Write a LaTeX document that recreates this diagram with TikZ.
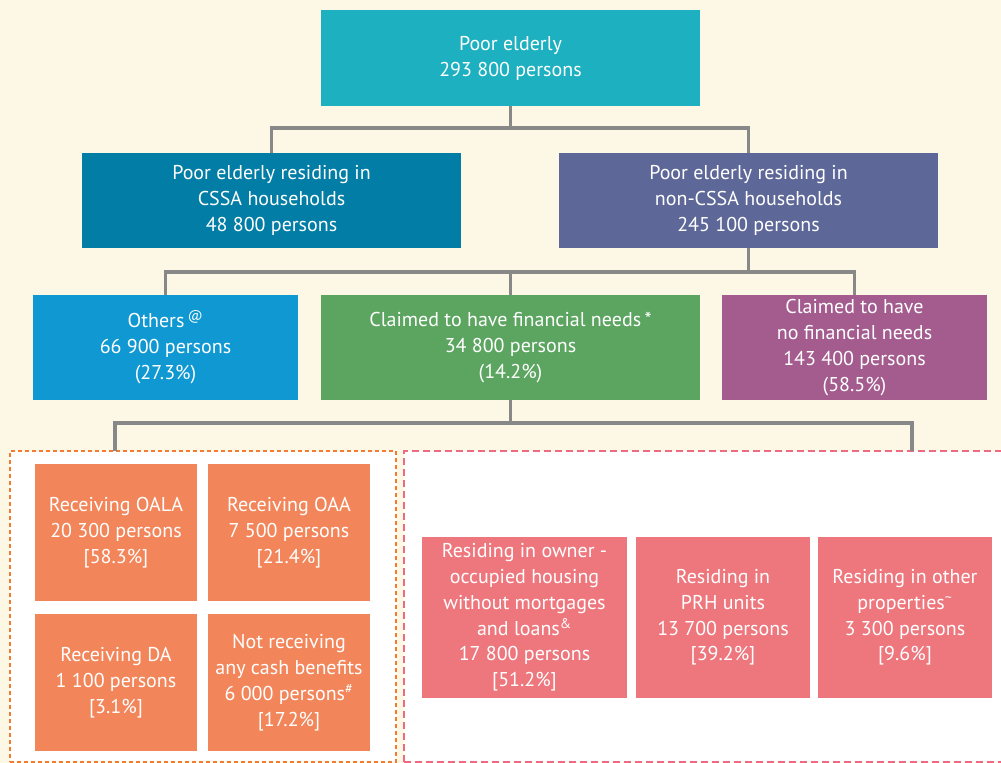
\documentclass[tikz,border=0pt]{standalone}
\usepackage{fontspec}
\setmainfont{PT Sans}
\definecolor{bg}{HTML}{FDF7E6}
\definecolor{ctop}{HTML}{1CB0C0}
\definecolor{ccssa}{HTML}{027DA5}
\definecolor{cnon}{HTML}{5E6898}
\definecolor{coth}{HTML}{1098D3}
\definecolor{cfin}{HTML}{5CA560}
\definecolor{cnofin}{HTML}{A45C8F}
\definecolor{corange}{HTML}{F2865A}
\definecolor{cpink}{HTML}{EE777E}
\definecolor{cgray}{HTML}{888888}
\definecolor{dorange}{HTML}{F37A2E}
\definecolor{dpink}{HTML}{EE6A82}
\begin{document}
\begin{tikzpicture}[x=0.75pt,y=-0.75pt,
  rect/.style n args={4}{minimum width={(#3-#1)*0.75pt}, minimum height={(#4-#2)*0.75pt}, at={({(#1+#3)/2},{(#2+#4)/2})}},
  box/.style={rectangle, inner sep=0pt, text=white, align=center, font=\fontsize{15}{19.5}\selectfont},
  smallbox/.style={box, font=\fontsize{15}{19.3}\selectfont},
  conn/.style={draw=cgray, line width=2.7pt},
  dborange/.style={rectangle, inner sep=0pt, draw=dorange, fill=white, line width=1.9pt, dash pattern=on 3pt off 2.25pt},
  dbpink/.style={rectangle, inner sep=0pt, draw=dpink, fill=white, line width=2pt, dash pattern=on 5pt off 3.25pt}]
\fill[bg] (0,0) rectangle (1001,763);
\useasboundingbox (0,0) rectangle (1001,763);

% dashed containers
\node[dborange, rect={10}{451}{396}{762}] (dbo) {};
\node[dbpink, rect={404}{451}{1004}{762}] (dbp) {};

% level 1
\node[box, fill=ctop, rect={321}{10}{700}{106}] (top) {Poor elderly\\293 800 persons};
% level 2
\node[box, fill=ccssa, rect={82}{153}{461}{248}] (cssa) {Poor elderly residing in\\CSSA households\\48 800 persons};
\node[box, fill=cnon, rect={559}{153}{938}{248}] (non) {Poor elderly residing in\\non-CSSA households\\245 100 persons};
% level 3
\node[box, fill=coth, rect={33}{295}{298}{400}] (oth) {Others\,\textsuperscript{@}\\66 900 persons\\(27.3\%)};
\node[box, fill=cfin, rect={321}{295}{700}{400}] (fin) {Claimed to have financial needs\,*\\34 800 persons\\(14.2\%)};
\node[box, fill=cnofin, rect={722}{295}{987}{400}] (nofin) {Claimed to have\\no financial needs\\143 400 persons\\(58.5\%)};
% level 4 orange
\node[box, fill=corange, rect={35}{464}{197}{601}] (oala) {Receiving OALA\\20 300 persons\\{[}58.3\%{]}};
\node[box, fill=corange, rect={208}{464}{370}{601}] (oaa) {Receiving OAA\\7 500 persons\\{[}21.4\%{]}};
\node[box, fill=corange, rect={35}{614}{197}{751}] (da) {Receiving DA\\1 100 persons\\{[}3.1\%{]}};
\node[box, fill=corange, rect={208}{614}{370}{751}] (nocash) {Not receiving\\any cash benefits\\6 000 persons\textsuperscript{\#}\\{[}17.2\%{]}};
% level 4 pink
\node[smallbox, fill=cpink, rect={422}{537}{627}{698}] (owner) {Residing in owner -\\occupied housing\\without mortgages\\and loans\textsuperscript{\&}\\17 800 persons\\{[}51.2\%{]}};
\node[smallbox, fill=cpink, rect={636}{537}{810}{698}] (prh) {Residing in\\PRH units\\13 700 persons\\{[}39.2\%{]}};
\node[smallbox, fill=cpink, rect={818}{537}{992}{698}] (other) {Residing in other\\properties\textsuperscript{\textasciitilde}\\3 300 persons\\{[}9.6\%{]}};

% connectors
\coordinate (j1) at (510.5,128);
\draw[conn] (top.south) -- (j1);
\draw[conn] (cssa.north) |- (j1) -| (non.north);
\coordinate (j2) at (748.5,272);
\draw[conn] (non.south) -- (j2);
\draw[conn] (oth.north) |- (j2) -| (nofin.north);
\draw[conn] (fin.north) -- (fin.north |- j2);
\coordinate (j3) at (510.5,423);
\coordinate (la) at (115,451);
\coordinate (lb) at (912,451);
\draw[conn] (fin.south) -- (j3);
\draw[conn] (la) |- (j3) -| (lb);
\end{tikzpicture}
\end{document}
